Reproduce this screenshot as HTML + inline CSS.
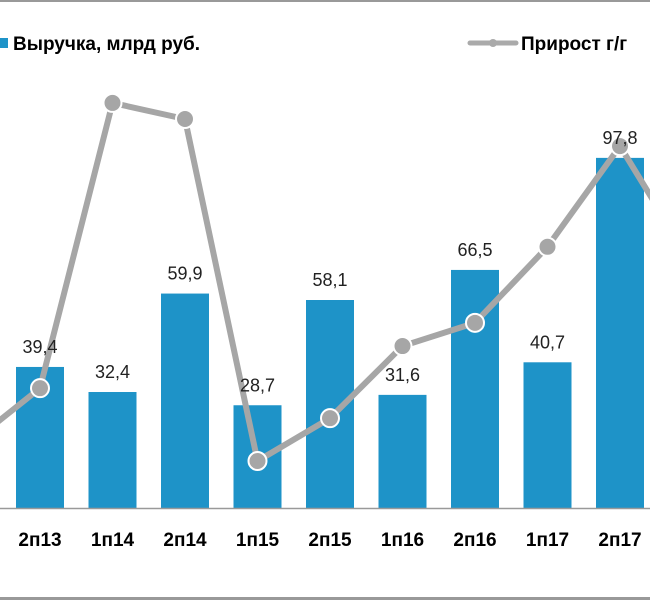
<!DOCTYPE html>
<html><head><meta charset="utf-8"><style>
body{margin:0;background:#fff;}
svg{display:block;font-family:"Liberation Sans",Arial,sans-serif;}
</style></head><body>
<svg width="650" height="600">
<rect x="0" y="0" width="650" height="2" fill="#999"/>
<rect x="0" y="597" width="650" height="3" fill="#999"/>
<g>
<rect x="0" y="38" width="8" height="10" fill="#1e93c8"/>
<text x="13" y="50" font-size="19" font-weight="bold" fill="#000">Выручка, млрд руб.</text>
<line x1="470" y1="43" x2="516" y2="43" stroke="#aaa" stroke-width="5" stroke-linecap="round"/>
<circle cx="493" cy="43" r="4" fill="#aaa"/>
<text x="521" y="50" font-size="19" font-weight="bold" fill="#000">Прирост г/г</text>
</g>
<g id="bars"></g>
<line x1="0" y1="508.5" x2="650" y2="508.5" stroke="#999" stroke-width="1.5"/>
<g id="line"></g>
<g id="labels"></g>
</svg>
<script>
const categories = ["2п12","2п13","1п14","2п14","1п15","2п15","1п16","2п16","1п17","2п17","1п18"];
const revenue = [null,39.4,32.4,59.9,28.7,58.1,31.6,66.5,40.7,97.8,null];
const revenueLabels = ["","39,4","32,4","59,9","28,7","58,1","31,6","66,5","40,7","97,8",""];
const growth = [4.2,20.4,100.3,95.8,0,12,32.2,38.7,60,88.2,55];
const NS="http://www.w3.org/2000/svg";
const x0=-32.5, step=72.5, base=508, k=3.58;
const xPos=i=>x0+i*step;
const yBar=v=>base-v*k;
const yLine=v=>461-v*3.57;
const bars=document.getElementById('bars'), lg=document.getElementById('line'), lb=document.getElementById('labels');
function mk(tag,attrs,parent){const e=document.createElementNS(NS,tag);for(const a in attrs)e.setAttribute(a,attrs[a]);parent.appendChild(e);return e;}
categories.forEach((c,i)=>{
  const cx=xPos(i);
  if(revenue[i]!=null){
    const r=mk('rect',{x:cx-24,y:yBar(revenue[i]),width:48,height:base-yBar(revenue[i]),fill:'#1e93c8'},bars);
    
    
    const t=mk('text',{x:cx,y:yBar(revenue[i])-14,'text-anchor':'middle','font-size':18,fill:'#222'},lb);
    t.textContent=revenueLabels[i];
    
    
  }
  const xl=mk('text',{x:cx,y:546,'text-anchor':'middle','font-size':19,'font-weight':'bold',fill:'#000'},lb);
  xl.textContent=c;
  
  
});
const pts=growth.map((v,i)=>xPos(i)+','+yLine(v)).join(' ');
const pl=mk('polyline',{points:pts,fill:'none',stroke:'#a6a6a6','stroke-width':6,'stroke-linejoin':'round'},lg);


growth.forEach((v,i)=>{
  const p=mk('circle',{cx:xPos(i),cy:yLine(v),r:9,fill:'#a6a6a6',stroke:'#fff','stroke-width':2},lg);
  
  
});
</script>
</body></html>
